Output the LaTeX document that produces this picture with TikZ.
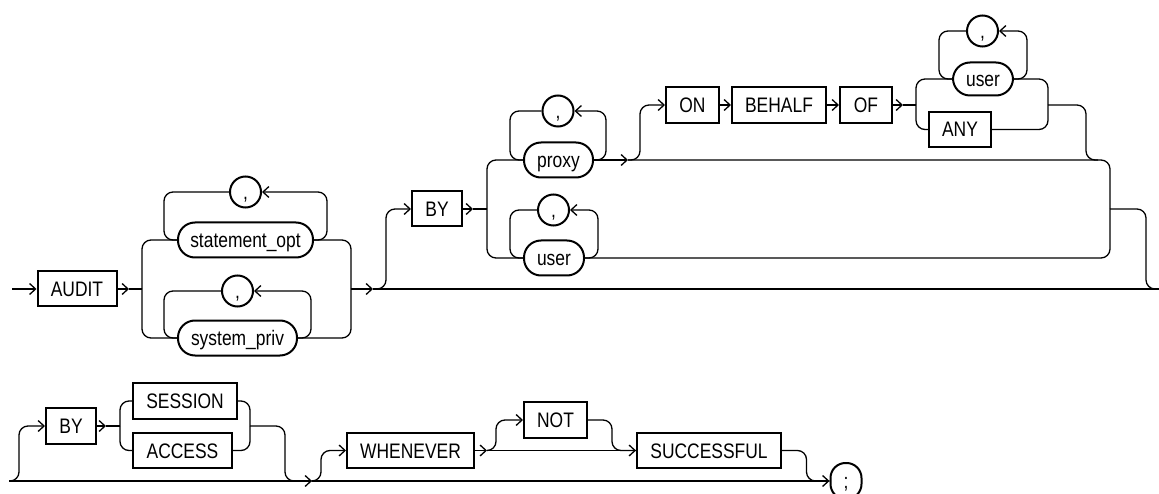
\documentclass[tikz,border=0pt]{standalone}
\usepackage{fontspec}
\setmainfont{Liberation Sans}[FakeStretch=0.83]
\usetikzlibrary{arrows.meta}
\begin{document}
\begin{tikzpicture}[x=1pt,y=-1pt,
  line width=1.3pt,
  font=\fontsize{21}{25}\selectfont,
  kw/.style={draw, line width=2pt, rectangle, minimum height=35pt, inner sep=0pt, text height=15pt, text depth=0pt},
  nt/.style={draw, line width=2pt, rounded corners=17pt, minimum height=35pt, inner sep=0pt, text height=15pt, text depth=0pt},
  sepc/.style={draw, line width=2pt, circle, minimum size=31pt, inner sep=0pt, text height=15pt, text depth=0pt},
  rail/.style={rounded corners=9pt},
  arr/.style={-{Straight Barb[length=6pt,width=11pt]}},
]
\useasboundingbox (0,0) rectangle (1159,494);

% ---------- Row 1 ----------
\coordinate (s0) at (12,289);
\node[kw, minimum width=79pt] (audit) at (77,289) {AUDIT};
\draw[arr] (s0) -- (audit.west);
\coordinate (a1) at (129,289);
\coordinate (c1L) at (142,289);
\draw[arr] (audit.east) -- (a1);
\draw (a1) -- (c1L);
\node[nt, minimum width=135pt] (stmt) at (245.5,240) {statement\_opt};
\node[nt, minimum width=119pt] (sysp) at (237.5,338) {system\_priv};
\draw[rail] (c1L) |- (stmt.west);
\draw[rail] (c1L) |- (sysp.west);
\coordinate (c1R) at (351,289);
\draw[rail] (stmt.east) -| (c1R);
\draw[rail] (sysp.east) -| (c1R);
% loops
\node[sepc] (cm1) at (245.5,192) {,};
\draw[rail, arr] (stmt.east) -- ++(13,0) |- (cm1.east);
\draw[rail] (cm1.west) -| ([xshift=-13pt]stmt.west) -- (stmt.west);
\node[sepc] (cm2) at (237.5,291) {,};
\draw[rail, arr] (sysp.east) -- ++(13,0) |- (cm2.east);
\draw[rail] (cm2.west) -| ([xshift=-13pt]sysp.west) -- (sysp.west);

\coordinate (a2) at (373,289);
\coordinate (e1) at (1159,289);
\draw[arr] (c1R) -- (a2);
\draw (a2) -- (e1);
\node[kw, minimum width=50pt] (by1) at (437,209) {BY};
\draw[rail, arr] (a2) -| ([xshift=-25pt]by1.west) -- (by1.west);
\coordinate (a3) at (473,209);
\coordinate (c2L) at (487,209);
\draw[arr] (by1.east) -- (a3);
\draw (a3) -- (c2L);
\node[nt, minimum width=69pt] (proxy) at (558.5,160) {proxy};
\node[nt, minimum width=60pt] (user1) at (554,258) {user};
\draw[rail] (c2L) |- (proxy.west);
\draw[rail] (c2L) |- (user1.west);
\node[sepc] (cm3) at (558,111) {,};
\draw[rail, arr] (proxy.east) -- ++(12,0) |- (cm3.east);
\draw[rail] (cm3.west) -| ([xshift=-13pt]proxy.west) -- (proxy.west);
\node[sepc] (cm4) at (553.5,210) {,};
\draw[rail, arr] (user1.east) -- ++(13,0) |- (cm4.east);
\draw[rail] (cm4.west) -| ([xshift=-13pt]user1.west) -- (user1.west);

\coordinate (a4) at (628,160);
\coordinate (c2R) at (1110,209);
\draw[arr] (proxy.east) -- (a4);
\draw[rail] (a4) -| (c2R);
\draw[rail] (user1.east) -| (c2R);
\draw[rail] (c2R) -| ([xshift=-13pt]e1) -- (e1);

% ON BEHALF OF
\node[kw, minimum width=53pt, minimum height=36pt] (on) at (692.5,105) {ON};
\node[kw, minimum width=94pt, minimum height=36pt] (behalf) at (779,105) {BEHALF};
\node[kw, minimum width=52pt, minimum height=36pt] (of) at (866,105) {OF};
\draw[rail, arr] (a4) -| ([xshift=-25pt]on.west) -- (on.west);
\draw[arr] (on) -- (behalf);
\draw[arr] (behalf) -- (of);
\coordinate (a5) at (903,105);
\coordinate (c3L) at (916,105);
\draw[arr] (of.east) -- (a5);
\draw (a5) -- (c3L);
\node[nt, minimum width=60pt, minimum height=33pt] (user2) at (983,79) {user};
\node[kw, minimum width=62pt] (any) at (960,129.5) {ANY};
\draw[rail] (c3L) |- (user2.west);
\draw[rail] (c3L) |- (any.west);
\coordinate (c3R) at (1048,105);
\draw[rail] (user2.east) -| (c3R);
\draw[rail] (any.east) -| (c3R);
\node[sepc] (cm5) at (982.5,31) {,};
\draw[rail, arr] (user2.east) -- ++(13,0) |- (cm5.east);
\draw[rail] (cm5.west) -| ([xshift=-13pt]user2.west) -- (user2.west);
\coordinate (m1) at (1086,160);
\draw[rail] (c3R) -| (m1) -- ++(12,0);

% ---------- Row 2 ----------
\coordinate (s1) at (9,481);
\node[nt, rounded corners=15pt, minimum width=31pt, minimum height=36pt] (semi) at (846,481) {;};
\coordinate (a6) at (312,481);
\draw[arr] (s1) -- (a6);
\draw[arr] (a6) -- (semi.west);

\node[kw, minimum width=50pt, minimum height=36pt] (by2) at (71,426) {BY};
\draw[rail, arr] (s1) -| ([xshift=-26pt]by2.west) -- (by2.west);
\coordinate (a7) at (106,426);
\coordinate (c4L) at (120,426);
\draw[arr] (by2.east) -- (a7);
\draw (a7) -- (c4L);
\node[kw, minimum width=104pt, minimum height=36pt] (session) at (185,401) {SESSION};
\node[kw, minimum width=99pt] (access) at (182.5,450.5) {ACCESS};
\draw[rail] (c4L) |- (session.west);
\draw[rail] (c4L) |- (access.west);
\coordinate (c4R) at (250,426);
\draw[rail] (session.east) -| (c4R);
\draw[rail] (access.east) -| (c4R);
\draw[rail] (c4R) -| ([xshift=-27pt]a6) -- (a6);

\node[kw, minimum width=127pt] (whenever) at (410.5,450.5) {WHENEVER};
\draw[rail, arr] (a6) -| ([xshift=-25pt]whenever.west) -- (whenever.west);
\coordinate (a8) at (487,450.5);
\draw[arr] (whenever.east) -- (a8);
\node[kw, minimum width=63pt, minimum height=36pt] (not) at (555.5,420) {NOT};
\draw[rail, arr] (a8) -| ([xshift=-27pt]not.west) -- (not.west);
\node[kw, minimum width=144pt] (succ) at (709,450.5) {SUCCESSFUL};
\draw[arr] (a8) -- (succ.west);
\draw[rail] (not.east) -| ([xshift=-24pt]succ.west) -- (succ.west);
\draw[rail] (succ.east) -| ([xshift=-23pt]semi.west) -- (semi.west);
\end{tikzpicture}
\end{document}
